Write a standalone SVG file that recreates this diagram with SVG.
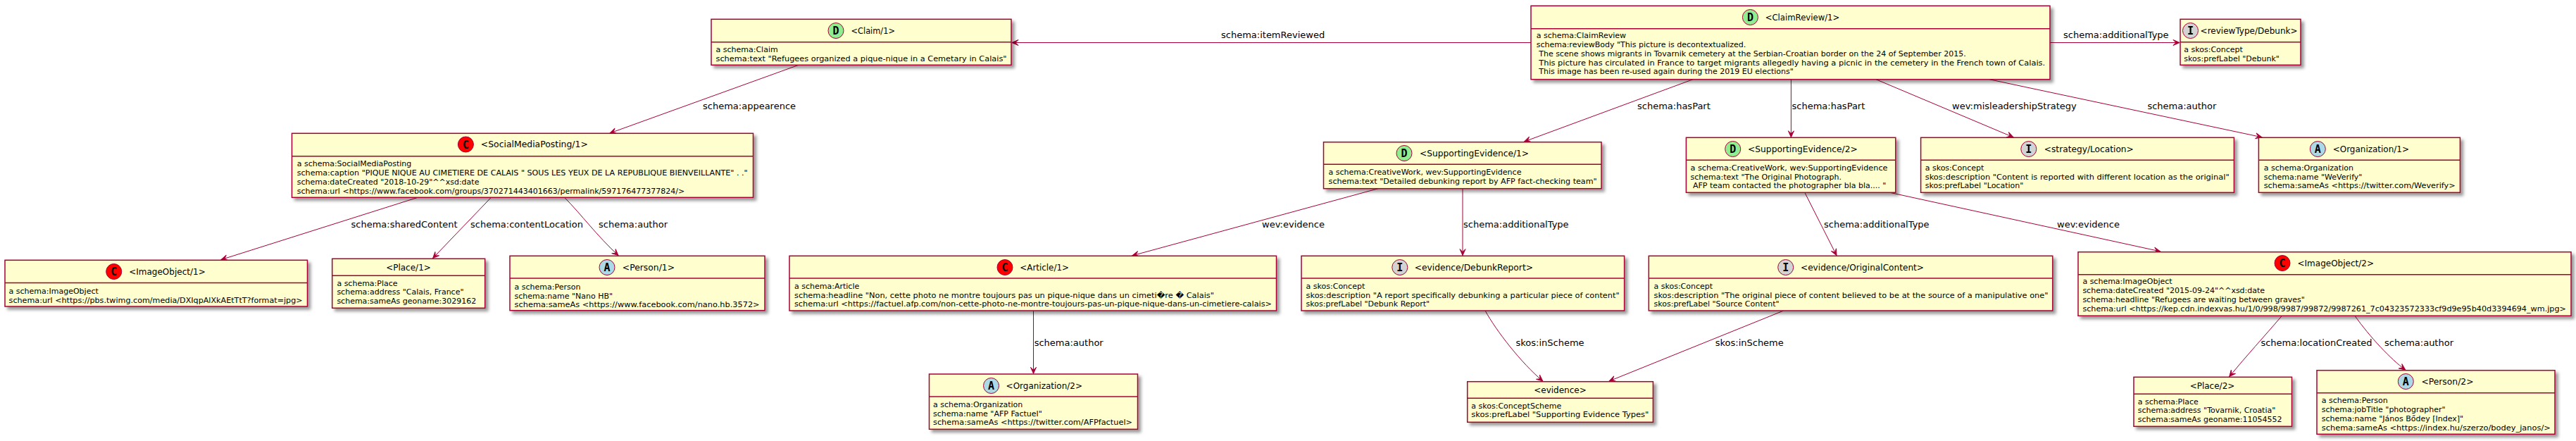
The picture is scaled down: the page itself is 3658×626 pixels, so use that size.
<svg xmlns="http://www.w3.org/2000/svg" width="3658" height="626" viewBox="0 0 3658 626">
<style>
text{font-family:"DejaVu Sans",sans-serif;fill:#000}
.box{fill:#FEFECE;stroke:#A80036;stroke-width:1.5;filter:url(#s)}
.div{stroke:#A80036;stroke-width:1.5}
.t{font-size:12px}
.b{font-size:11px}
.l{font-size:13px}
.e{fill:none;stroke:#A80036;stroke-width:1;marker-end:url(#a)}
.cd,.cc,.ci,.ca{stroke:#A80036;stroke-width:1}
.cd{fill:#90EE90}.cc{fill:#FF0000}.ci{fill:#D3D3D3}.ca{fill:#ADD8E6}
.g{font-family:"DejaVu Sans Mono",monospace;font-size:15px;font-weight:bold;text-anchor:middle}
</style>
<defs>
<filter id="s" x="-5%" y="-10%" width="110%" height="125%"><feDropShadow dx="4" dy="4" stdDeviation="2" flood-color="#000" flood-opacity="0.4"/></filter>
<marker id="a" viewBox="-10 -6 12 12" markerWidth="12" markerHeight="12" refX="0" refY="0" orient="auto" markerUnits="userSpaceOnUse"><path d="M0,0L-9,-4L-5,0L-9,4Z" fill="#A80036" stroke="#A80036"/></marker>
</defs>
<g id="connectors">
<path class="e" d="M2174,60.5H1437"/><text class="l" x="1734" y="53.5">schema:itemReviewed</text>
<path class="e" d="M2911,60.5H3095"/><text class="l" x="2930" y="53.5">schema:additionalType</text>
<path class="e" d="M1134,92.3L866,189"/><text class="l" x="998" y="155">schema:appearence</text>
<path class="e" d="M2404,112.7L2164.5,201"/><text class="l" x="2325" y="155">schema:hasPart</text>
<path class="e" d="M2543.4,112.7V194.8"/><text class="l" x="2544.5" y="155">schema:hasPart</text>
<path class="e" d="M2664,112.7L2859,194.8"/><text class="l" x="2772" y="155">wev:misleadershipStrategy</text>
<path class="e" d="M2825,112.7L3212,194.8"/><text class="l" x="3049.4" y="155">schema:author</text>
<path class="e" d="M592,280.7L314,368.6"/><text class="l" x="498.5" y="322.5">schema:sharedContent</text>
<path class="e" d="M697,280.7L614.6,366.6"/><text class="l" x="668" y="322.5">schema:contentLocation</text>
<path class="e" d="M802,280.7C825,304 848,335 878,362.6"/><text class="l" x="850" y="322.5">schema:author</text>
<path class="e" d="M1957,267.7L1608,362.8"/><text class="l" x="1792" y="323">wev:evidence</text>
<path class="e" d="M2077,267.7V362.6"/><text class="l" x="2078" y="323">schema:additionalType</text>
<path class="e" d="M2562.8,273.3L2608,362.6"/><text class="l" x="2590" y="323">schema:additionalType</text>
<path class="e" d="M2683.7,273.3L3067.6,356.9"/><text class="l" x="2921" y="323">wev:evidence</text>
<path class="e" d="M1467.5,441V530.3"/><text class="l" x="1468.7" y="491">schema:author</text>
<path class="e" d="M2109,441C2125,470 2160,515 2190.8,541"/><text class="l" x="2152.5" y="491">skos:inScheme</text>
<path class="e" d="M2532.7,441L2285,541"/><text class="l" x="2435.7" y="491">skos:inScheme</text>
<path class="e" d="M3240.4,448.3C3215,478 3190,505 3165.7,534.6"/><text class="l" x="3210.4" y="491">schema:locationCreated</text>
<path class="e" d="M3344,448.3C3365,478 3395,510 3415.7,525"/><text class="l" x="3386" y="491">schema:author</text>
</g>
<g id="Claim1"><rect class="box" x="1010" y="27.3" width="426" height="65"/><line class="div" x1="1010" y1="59.7" x2="1436" y2="59.7"/><circle class="cd" cx="1187" cy="43.5" r="11"/><text class="g" x="1187" y="49">D</text><text class="t" x="1208.5" y="47.5" textLength="62.5" lengthAdjust="spacingAndGlyphs">&lt;Claim/1&gt;</text><text class="b" x="1016.5" y="73.5">a schema:Claim</text><text class="b" x="1016.5" y="86.5" textLength="413" lengthAdjust="spacingAndGlyphs">schema:text "Refugees organized a pique-nique in a Cemetary in Calais"</text></g>
<g id="ClaimReview1"><rect class="box" x="2174" y="8.3" width="737" height="104.4"/><line class="div" x1="2174" y1="40.7" x2="2911" y2="40.7"/><circle class="cd" cx="2485.4" cy="24.5" r="11"/><text class="g" x="2485.4" y="30">D</text><text class="t" x="2506.7" y="28.5" textLength="105.6" lengthAdjust="spacingAndGlyphs">&lt;ClaimReview/1&gt;</text><text class="b" x="2181.7" y="54.3">a schema:ClaimReview</text><text class="b" x="2181.7" y="67.3">schema:reviewBody "This picture is decontextualized.</text><text class="b" x="2185.2" y="80.3">The scene shows migrants in Tovarnik cemetery at the Serbian-Croatian border on the 24 of September 2015.</text><text class="b" x="2185.2" y="93.3" textLength="719" lengthAdjust="spacingAndGlyphs">This picture has circulated in France to target migrants allegedly having a picnic in the cemetery in the French town of Calais.</text><text class="b" x="2185.2" y="105.3">This image has been re-used again during the 2019 EU elections"</text></g>
<g id="reviewTypeDebunk"><rect class="box" x="3096" y="27.3" width="171" height="65"/><line class="div" x1="3096" y1="59.7" x2="3267" y2="59.7"/><circle class="ci" cx="3110.5" cy="43.5" r="11"/><text class="g" x="3110.5" y="49">I</text><text class="t" x="3124.6" y="47.5" textLength="138" lengthAdjust="spacingAndGlyphs">&lt;reviewType/Debunk&gt;</text><text class="b" x="3101.3" y="73.5">a skos:Concept</text><text class="b" x="3101.3" y="86.5">skos:prefLabel "Debunk"</text></g>
<g id="SocialMediaPosting1"><rect class="box" x="414.5" y="189.3" width="655" height="91"/><line class="div" x1="414.5" y1="221.7" x2="1069.5" y2="221.7"/><circle class="cc" cx="661.4" cy="205" r="11"/><text class="g" x="661.4" y="210.5">C</text><text class="t" x="682.8" y="209" textLength="152" lengthAdjust="spacingAndGlyphs">&lt;SocialMediaPosting/1&gt;</text><text class="b" x="421.7" y="235.5">a schema:SocialMediaPosting</text><text class="b" x="421.7" y="248.5" textLength="640" lengthAdjust="spacingAndGlyphs">schema:caption "PIQUE NIQUE AU CIMETIERE DE CALAIS " SOUS LES YEUX DE LA REPUBLIQUE BIENVEILLANTE" . ."</text><text class="b" x="421.7" y="261.5">schema:dateCreated "2018-10-29"^^xsd:date</text><text class="b" x="421.7" y="274.5">schema:url &lt;https://www.facebook.com/groups/370271443401663/permalink/597176477377824/&gt;</text></g>
<g id="ImageObject1"><rect class="box" x="7" y="369.3" width="429.5" height="65.7"/><line class="div" x1="7" y1="401.5" x2="436.5" y2="401.5"/><circle class="cc" cx="161.7" cy="385.5" r="11"/><text class="g" x="161.7" y="391">C</text><text class="t" x="183.2" y="389.5" textLength="108.5" lengthAdjust="spacingAndGlyphs">&lt;ImageObject/1&gt;</text><text class="b" x="12.6" y="416.5">a schema:ImageObject</text><text class="b" x="12.6" y="429.5" textLength="417" lengthAdjust="spacingAndGlyphs">schema:url &lt;https://pbs.twimg.com/media/DXIqpAlXkAEtTtT?format=jpg&gt;</text></g>
<g id="Place1"><rect class="box" x="471.7" y="367.3" width="217" height="70"/><line class="div" x1="471.7" y1="391.3" x2="688.7" y2="391.3"/><text class="t" x="580" y="383.5" text-anchor="middle">&lt;Place/1&gt;</text><text class="b" x="478.4" y="406">a schema:Place</text><text class="b" x="478.4" y="418">schema:address "Calais, France"</text><text class="b" x="478.4" y="430.5">schema:sameAs geoname:3029162</text></g>
<g id="Person1"><rect class="box" x="724" y="363.3" width="362" height="77.4"/><line class="div" x1="724" y1="395" x2="1086" y2="395"/><circle class="ca" cx="862" cy="379.5" r="11"/><text class="g" x="862" y="385">A</text><text class="t" x="883.8" y="383.5" textLength="74.2" lengthAdjust="spacingAndGlyphs">&lt;Person/1&gt;</text><text class="b" x="730.6" y="410.5">a schema:Person</text><text class="b" x="730.6" y="423.5">schema:name "Nano HB"</text><text class="b" x="730.6" y="435.5" textLength="348" lengthAdjust="spacingAndGlyphs">schema:sameAs &lt;https://www.facebook.com/nano.hb.3572&gt;</text></g>
<g id="SupportingEvidence1"><rect class="box" x="1879.5" y="201.7" width="394.5" height="66"/><line class="div" x1="1879.5" y1="233.3" x2="2274" y2="233.3"/><circle class="cd" cx="1994" cy="217.5" r="11"/><text class="g" x="1994" y="223">D</text><text class="t" x="2016" y="221.5" textLength="155" lengthAdjust="spacingAndGlyphs">&lt;SupportingEvidence/1&gt;</text><text class="b" x="1886.6" y="248.3">a schema:CreativeWork, wev:SupportingEvidence</text><text class="b" x="1886.6" y="261.3" textLength="381" lengthAdjust="spacingAndGlyphs">schema:text "Detailed debunking report by AFP fact-checking team"</text></g>
<g id="SupportingEvidence2"><rect class="box" x="2394.4" y="195.3" width="297.4" height="78"/><line class="div" x1="2394.4" y1="227.3" x2="2691.8" y2="227.3"/><circle class="cd" cx="2460.7" cy="211.5" r="11"/><text class="g" x="2460.7" y="217">D</text><text class="t" x="2482" y="215.5" textLength="155.8" lengthAdjust="spacingAndGlyphs">&lt;SupportingEvidence/2&gt;</text><text class="b" x="2400.5" y="242.3" textLength="280" lengthAdjust="spacingAndGlyphs">a schema:CreativeWork, wev:SupportingEvidence</text><text class="b" x="2400.5" y="255">schema:text "The Original Photograph.</text><text class="b" x="2404" y="267">AFP team contacted the photographer bla bla.... "</text></g>
<g id="strategyLocation"><rect class="box" x="2727.6" y="195.3" width="444.8" height="78"/><line class="div" x1="2727.6" y1="227.3" x2="3172.4" y2="227.3"/><circle class="ci" cx="2880.8" cy="211.5" r="11"/><text class="g" x="2880.8" y="217">I</text><text class="t" x="2902.8" y="215.5" textLength="127" lengthAdjust="spacingAndGlyphs">&lt;strategy/Location&gt;</text><text class="b" x="2733.7" y="242.3">a skos:Concept</text><text class="b" x="2733.7" y="255" textLength="432" lengthAdjust="spacingAndGlyphs">skos:description "Content is reported with different location as the original"</text><text class="b" x="2733.7" y="267">skos:prefLabel "Location"</text></g>
<g id="Organization1"><rect class="box" x="3207.4" y="195.3" width="286" height="78"/><line class="div" x1="3207.4" y1="227.3" x2="3493.4" y2="227.3"/><circle class="ca" cx="3291.3" cy="211.5" r="11"/><text class="g" x="3291.3" y="217">A</text><text class="t" x="3312.7" y="215.5" textLength="108.3" lengthAdjust="spacingAndGlyphs">&lt;Organization/1&gt;</text><text class="b" x="3214.7" y="242.3">a schema:Organization</text><text class="b" x="3214.7" y="255">schema:name "WeVerify"</text><text class="b" x="3214.7" y="267" textLength="272" lengthAdjust="spacingAndGlyphs">schema:sameAs &lt;https://twitter.com/Weverify&gt;</text></g>
<g id="Article1"><rect class="box" x="1121" y="363.3" width="691.5" height="77.7"/><line class="div" x1="1121" y1="395" x2="1812.5" y2="395"/><circle class="cc" cx="1427" cy="379.5" r="11"/><text class="g" x="1427" y="385">C</text><text class="t" x="1448.3" y="383.5" textLength="69.7" lengthAdjust="spacingAndGlyphs">&lt;Article/1&gt;</text><text class="b" x="1128" y="410.3">a schema:Article</text><text class="b" x="1128" y="423.3" textLength="596" lengthAdjust="spacingAndGlyphs">schema:headline "Non, cette photo ne montre toujours pas un pique-nique dans un cimeti�re � Calais"</text><text class="b" x="1128" y="435.3" textLength="678" lengthAdjust="spacingAndGlyphs">schema:url &lt;https://factuel.afp.com/non-cette-photo-ne-montre-toujours-pas-un-pique-nique-dans-un-cimetiere-calais&gt;</text></g>
<g id="evidenceDebunkReport"><rect class="box" x="1848" y="363.3" width="458.6" height="77.7"/><line class="div" x1="1848" y1="395" x2="2306.6" y2="395"/><circle class="ci" cx="1987.8" cy="379.5" r="11"/><text class="g" x="1987.8" y="385">I</text><text class="t" x="2008.7" y="383.5" textLength="168.3" lengthAdjust="spacingAndGlyphs">&lt;evidence/DebunkReport&gt;</text><text class="b" x="1854.6" y="410.3">a skos:Concept</text><text class="b" x="1854.6" y="423.3" textLength="445" lengthAdjust="spacingAndGlyphs">skos:description "A report specifically debunking a particular piece of content"</text><text class="b" x="1854.6" y="435.3">skos:prefLabel "Debunk Report"</text></g>
<g id="evidenceOriginalContent"><rect class="box" x="2341.3" y="363.3" width="573.5" height="77.7"/><line class="div" x1="2341.3" y1="395" x2="2914.8" y2="395"/><circle class="ci" cx="2535.7" cy="379.5" r="11"/><text class="g" x="2535.7" y="385">I</text><text class="t" x="2557" y="383.5" textLength="175" lengthAdjust="spacingAndGlyphs">&lt;evidence/OriginalContent&gt;</text><text class="b" x="2348.5" y="410.3">a skos:Concept</text><text class="b" x="2348.5" y="423.3" textLength="560" lengthAdjust="spacingAndGlyphs">skos:description "The original piece of content believed to be at the source of a manipulative one"</text><text class="b" x="2348.5" y="435.3">skos:prefLabel "Source Content"</text></g>
<g id="ImageObject2"><rect class="box" x="2951" y="357.7" width="700" height="90.6"/><line class="div" x1="2951" y1="389.7" x2="3651" y2="389.7"/><circle class="cc" cx="3241" cy="373.5" r="11"/><text class="g" x="3241" y="379">C</text><text class="t" x="3262.5" y="377.5" textLength="108.5" lengthAdjust="spacingAndGlyphs">&lt;ImageObject/2&gt;</text><text class="b" x="2957.4" y="403.3">a schema:ImageObject</text><text class="b" x="2957.4" y="416.3">schema:dateCreated "2015-09-24"^^xsd:date</text><text class="b" x="2957.4" y="429.3">schema:headline "Refugees are waiting between graves"</text><text class="b" x="2957.4" y="442.3" textLength="686.5" lengthAdjust="spacingAndGlyphs">schema:url &lt;https://kep.cdn.indexvas.hu/1/0/998/9987/99872/9987261_7c04323572333cf9d9e95b40d3394694_wm.jpg&gt;</text></g>
<g id="Organization2"><rect class="box" x="1319.5" y="531" width="296" height="78.3"/><line class="div" x1="1319.5" y1="563" x2="1615.5" y2="563"/><circle class="ca" cx="1407.5" cy="547.5" r="11"/><text class="g" x="1407.5" y="553">A</text><text class="t" x="1428.6" y="551.5" textLength="108.4" lengthAdjust="spacingAndGlyphs">&lt;Organization/2&gt;</text><text class="b" x="1325" y="578.3">a schema:Organization</text><text class="b" x="1325" y="591.3">schema:name "AFP Factuel"</text><text class="b" x="1325" y="603.3" textLength="283" lengthAdjust="spacingAndGlyphs">schema:sameAs &lt;https://twitter.com/AFPfactuel&gt;</text></g>
<g id="evidence"><rect class="box" x="2083.7" y="541.7" width="263.7" height="57.6"/><line class="div" x1="2083.7" y1="565.3" x2="2347.4" y2="565.3"/><text class="t" x="2215.5" y="558" text-anchor="middle">&lt;evidence&gt;</text><text class="b" x="2089.3" y="580.3">a skos:ConceptScheme</text><text class="b" x="2089.3" y="592.3" textLength="252" lengthAdjust="spacingAndGlyphs">skos:prefLabel "Supporting Evidence Types"</text></g>
<g id="Place2"><rect class="box" x="3030" y="535.3" width="224.5" height="70"/><line class="div" x1="3030" y1="559.3" x2="3254.5" y2="559.3"/><text class="t" x="3141.5" y="552" text-anchor="middle">&lt;Place/2&gt;</text><text class="b" x="3035.7" y="574">a schema:Place</text><text class="b" x="3035.7" y="586.3">schema:address "Tovarnik, Croatia"</text><text class="b" x="3035.7" y="599.3">schema:sameAs geoname:11054552</text></g>
<g id="Person2"><rect class="box" x="3290" y="525.7" width="338" height="90.6"/><line class="div" x1="3290" y1="557.7" x2="3628" y2="557.7"/><circle class="ca" cx="3416.3" cy="541.5" r="11"/><text class="g" x="3416.3" y="547">A</text><text class="t" x="3438.4" y="545.5" textLength="74.1" lengthAdjust="spacingAndGlyphs">&lt;Person/2&gt;</text><text class="b" x="3296.8" y="571.7">a schema:Person</text><text class="b" x="3296.8" y="584.7">schema:jobTitle "photographer"</text><text class="b" x="3296.8" y="597.5">schema:name "János Bődey [Index]"</text><text class="b" x="3296.8" y="610.7" textLength="325" lengthAdjust="spacingAndGlyphs">schema:sameAs &lt;https://index.hu/szerzo/bodey_janos/&gt;</text></g>
</svg>
